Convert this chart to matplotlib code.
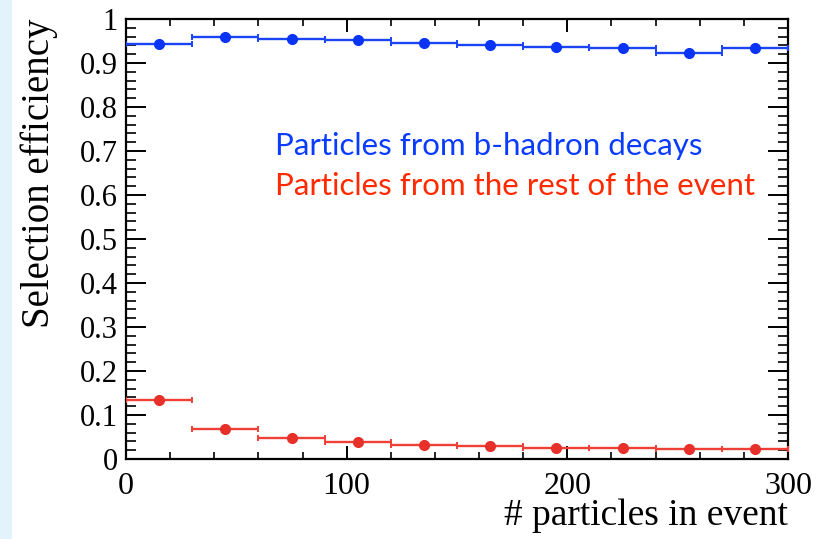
import matplotlib
matplotlib.use("Agg")
import matplotlib.pyplot as plt
from matplotlib.patches import Rectangle
from matplotlib.ticker import MultipleLocator, FixedLocator, FixedFormatter
import numpy as np

# Binning in number of particles per event
bin_edges = [0, 30, 60, 90, 120, 150, 180, 210, 240, 270, 300]

# Selection efficiency per bin
eff_b_hadron = [0.944, 0.959, 0.955, 0.952, 0.946, 0.942, 0.937, 0.933, 0.922, 0.933]
eff_rest = [0.134, 0.068, 0.048, 0.039, 0.032, 0.029, 0.026, 0.024, 0.023, 0.022]

y_ticks = [0, 0.1, 0.2, 0.3, 0.4, 0.5, 0.6, 0.7, 0.8, 0.9, 1]
y_tick_labels = ["0", "0.1", "0.2", "0.3", "0.4", "0.5", "0.6", "0.7", "0.8", "0.9", "1"]
x_ticks = [0, 100, 200, 300]
x_tick_labels = ["0", "100", "200", "300"]

label_b = "Particles from b-hadron decays"
label_rest = "Particles from the rest of the event"

W, H = 819, 539
fig = plt.figure(figsize=(W / 100, H / 100), dpi=100)
fig.patch.set_facecolor("white")
fig.patches.append(Rectangle((0, 0), 12 / W, 1, transform=fig.transFigure,
                             facecolor="#E2F3FB", edgecolor="none", zorder=0))

ax = fig.add_axes([126 / W, (H - 459) / H, 662 / W, 440 / H])

edges = np.array(bin_edges, dtype=float)
centers = 0.5 * (edges[:-1] + edges[1:])
half = 0.5 * (edges[1:] - edges[:-1])

ax.errorbar(centers, eff_b_hadron, xerr=half, fmt="o", color="#0A34F5",
            ecolor="#1A44F5", markersize=7, elinewidth=1.7, capsize=2.3,
            capthick=1.4, zorder=3)
ax.errorbar(centers, eff_rest, xerr=half, fmt="o", color="#E8302A",
            ecolor="#EE4036", markersize=7, elinewidth=1.7, capsize=2.3,
            capthick=1.4, zorder=3)

ax.set_xlim(0, 300)
ax.set_ylim(0, 1)

serif = ["Liberation Serif", "DejaVu Serif"]

ax.yaxis.set_major_locator(FixedLocator(y_ticks))
ax.yaxis.set_major_formatter(FixedFormatter(y_tick_labels))
ax.yaxis.set_minor_locator(MultipleLocator(0.02))
ax.xaxis.set_major_locator(FixedLocator(x_ticks))
ax.xaxis.set_major_formatter(FixedFormatter(x_tick_labels))
ax.xaxis.set_minor_locator(MultipleLocator(20))

ax.tick_params(axis="y", which="major", direction="in", length=14.5, width=1.4,
               left=True, right=True, pad=6, labelsize=22)
ax.tick_params(axis="y", which="minor", direction="in", length=7.2, width=1.2,
               left=True, right=True)
ax.tick_params(axis="x", which="major", direction="in", length=9.5, width=1.4,
               top=True, bottom=True, pad=9, labelsize=23)
ax.tick_params(axis="x", which="minor", direction="in", length=5, width=1.2,
               top=True, bottom=True)
for lab in ax.get_xticklabels() + ax.get_yticklabels():
    lab.set_family(serif)
    lab.set_color("black")

for sp in ax.spines.values():
    sp.set_linewidth(1.6)
    sp.set_color("black")

ax.set_ylabel("Selection efficiency", family=serif, fontsize=28, loc="top")
ax.yaxis.set_label_coords(-0.102, 1.0)
ax.set_xlabel("# particles in event", family=serif, fontsize=27, loc="right")
ax.xaxis.set_label_coords(1.0, -0.09)

sans = ["Lato", "DejaVu Sans"]
ax.text(0.225, 0.691, label_b, transform=ax.transAxes, color="#0A3CFF",
        family=sans, fontsize=22.5, va="baseline", ha="left")
ax.text(0.225, 0.600, label_rest, transform=ax.transAxes, color="#FF2A00",
        family=sans, fontsize=22.5, va="baseline", ha="left")

fig.savefig("out.png", dpi=100)
